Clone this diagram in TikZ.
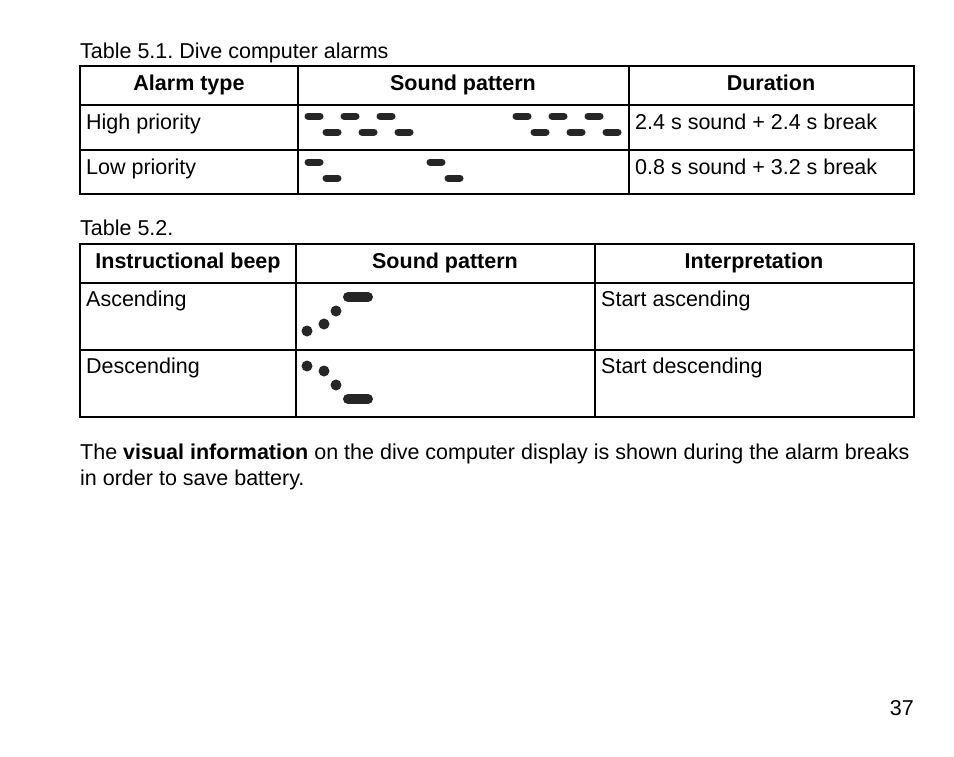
\documentclass[tikz,border=0pt]{standalone}
\usepackage{fontspec}
\setmainfont{Liberation Sans}
\usetikzlibrary{positioning}
\frenchspacing
\tikzset{
  grid line/.style={line width=1.2pt, black},
  cell/.style={anchor=base west, inner sep=0pt, font=\fontsize{21.5}{24}\selectfont},
  head/.style={anchor=base, inner sep=0pt, font=\fontsize{21.5}{24}\selectfont\bfseries},
  beep/.style={line width=7pt, line cap=round, black!85},
  dot/.style={circle, fill=black!85, inner sep=0pt, minimum size=11pt}
}
\begin{document}
\begin{tikzpicture}[x=1pt,y=-1pt]
  \useasboundingbox (0,0) rectangle (954,756);

  % table 5.1
  \node[cell] (cap1) at (80,58) {Table 5.1. Dive computer alarms};
  \draw[grid line] (80,66) rectangle (914,194);
  \foreach \y in {105,150} \draw[grid line] (80,\y) -- (914,\y);
  \foreach \x in {298,629} \draw[grid line] (\x,66) -- (\x,194);
  \node[head] (h11) at (189,90) {Alarm type};
  \node[head] (h12) at (463,90) {Sound pattern};
  \node[head] (h13) at (771,90) {Duration};
  \node[cell] (hp) at (86,129) {High priority};
  \node[cell] (hpd) at (635,129) {2.4 s sound + 2.4 s break};
  \node[cell] (lp) at (86,174) {Low priority};
  \node[cell] (lpd) at (635,174) {0.8 s sound + 3.2 s break};
  % high priority pattern
  \foreach \g in {0,208}
    \foreach \x in {314,350,386}
    {
      \draw[beep] (\x+\g-6,116) -- (\x+\g+6,116);
      \draw[beep] (\x+\g+12,132) -- (\x+\g+24,132);
    }
  % low priority pattern
  \foreach \x in {314,436}
  {
    \draw[beep] (\x-6,162) -- (\x+6,162);
    \draw[beep] (\x+12,178) -- (\x+24,178);
  }

  % table 5.2
  \node[cell] (cap2) at (80,235) {Table 5.2.};
  \draw[grid line] (80,244) rectangle (914,417);
  \foreach \y in {283,350} \draw[grid line] (80,\y) -- (914,\y);
  \foreach \x in {296,595} \draw[grid line] (\x,244) -- (\x,417);
  \node[head] (h21) at (188,268) {Instructional beep};
  \node[head] (h22) at (445,268) {Sound pattern};
  \node[head] (h23) at (754,268) {Interpretation};
  \node[cell] (asc) at (86,306) {Ascending};
  \node[cell] (asci) at (601,306) {Start ascending};
  \node[cell] (desc) at (86,373) {Descending};
  \node[cell] (desci) at (601,373) {Start descending};
  % ascending pattern
  \node[dot] (a1) at (307,331) {};
  \node[dot] (a2) at (324,324) {};
  \node[dot] (a3) at (336,311) {};
  \draw[beep, line width=10pt] (348,297) -- (368,297);
  % descending pattern
  \node[dot] (d1) at (307,366) {};
  \node[dot] (d2) at (324,371) {};
  \node[dot] (d3) at (336,385) {};
  \draw[beep, line width=10pt] (348,399) -- (368,399);

  \node[cell] (note1) at (80,459) {The \textbf{visual information} on the dive computer display is shown during the alarm breaks};
  \node[cell] (note2) at (80,485) {in order to save battery.};
  \node[cell, anchor=base east] (page) at (914,715) {37};
\end{tikzpicture}
\end{document}
